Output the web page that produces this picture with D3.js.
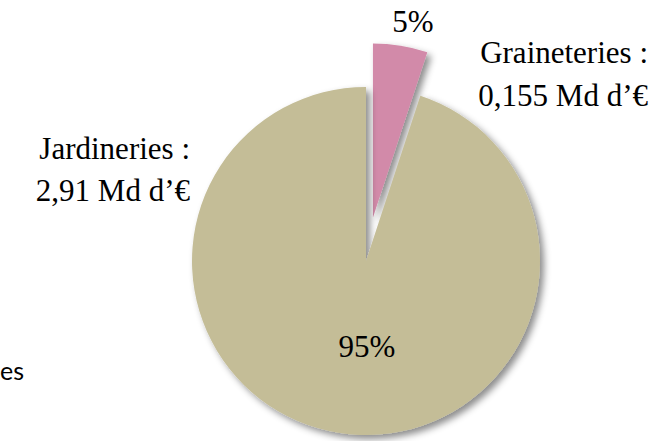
<!DOCTYPE html>
<html><head><meta charset="utf-8">
<script src="https://cdn.jsdelivr.net/npm/d3@7/dist/d3.min.js"></script>
<style>html,body{margin:0;padding:0;background:#fff;overflow:hidden}</style>
</head><body><svg id="c" width="655" height="441"></svg>
<script>
const categories = ["Graineteries", "Jardineries"];
const values = [0.155, 2.91];
const valueLabels = ["0,155 Md d\u2019\u20ac", "2,91 Md d\u2019\u20ac"];
const colors = ["#D28AA9", "#C4BD97"];

const svg = d3.select("#c");
const defs = svg.append("defs");
const f = defs.append("filter").attr("id","sh").attr("x","-20%").attr("y","-20%").attr("width","140%").attr("height","140%");
f.append("feDropShadow").attr("dx",4).attr("dy",4).attr("stdDeviation",3.5).attr("flood-color","#000").attr("flood-opacity",0.45);

const cx = 366, cy = 261, r = 174, explode = 44;
const total = d3.sum(values);
const pie = d3.pie().sort(null).value(d => d)(values);
const arc = d3.arc().innerRadius(0).outerRadius(r);
const g = svg.append("g").attr("transform", `translate(${cx},${cy})`);

g.selectAll("path").data(pie).join("path")
  .attr("d", arc)
  .attr("fill", (d,i) => colors[i])
  .attr("filter","url(#sh)")
  .attr("transform", (d,i) => {
    if (i !== 0) return null;
    const a = (d.startAngle + d.endAngle) / 2;
    return `translate(${explode*Math.sin(a)},${-explode*Math.cos(a)})`;
  });

const font = "'Liberation Serif', 'DejaVu Serif', serif";
const pct = values.map(v => Math.round(v / total * 100) + "%");

svg.append("text").attr("x", 413).attr("y", 32).attr("text-anchor","middle")
  .attr("font-family", font).attr("font-size", 31).attr("fill","#000").text(pct[0]);
svg.append("text").attr("x", 367).attr("y", 357).attr("text-anchor","middle")
  .attr("font-family", font).attr("font-size", 31).attr("fill","#000").text(pct[1]);

function label(x, y1, y2, i) {
  const t = svg.append("text").attr("text-anchor","end")
    .attr("font-family", font).attr("font-size", 31).attr("fill","#000");
  t.append("tspan").attr("x", x).attr("y", y1).text(categories[i] + " :");
  t.append("tspan").attr("x", x).attr("y", y2).text(valueLabels[i]);
}
label(648, 63, 106, 0);
label(190, 159, 201, 1);

svg.append("text").attr("x", 0).attr("y", 380)
  .attr("font-family", "Lato, 'Open Sans', sans-serif").attr("font-size", 25).attr("fill","#000").text("es");
</script></body></html>
